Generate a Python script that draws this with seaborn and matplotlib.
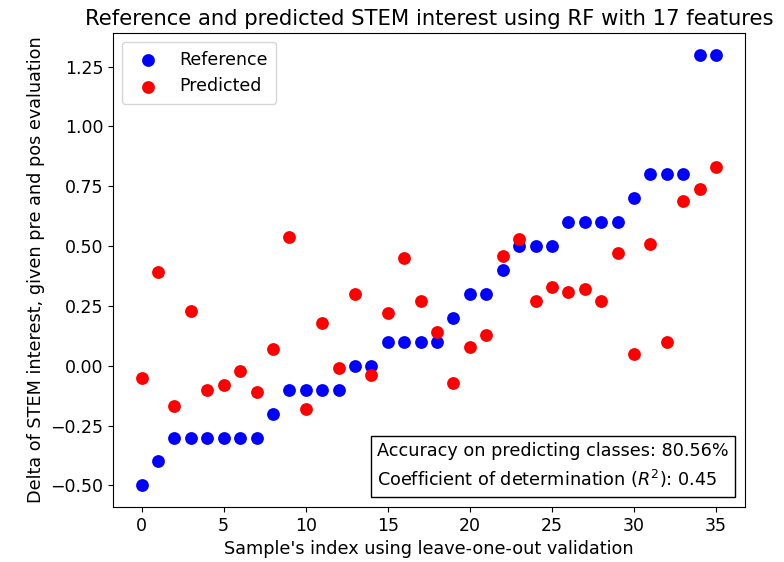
import numpy as np
import pandas as pd
import matplotlib
matplotlib.use("Agg")
import matplotlib.pyplot as plt
import seaborn as sns

sample_index = list(range(36))
reference = [-0.5, -0.4, -0.3, -0.3, -0.3, -0.3, -0.3, -0.3, -0.2, -0.1, -0.1, -0.1,
             -0.1, 0.0, 0.0, 0.1, 0.1, 0.1, 0.1, 0.2, 0.3, 0.3, 0.4, 0.5,
             0.5, 0.5, 0.6, 0.6, 0.6, 0.6, 0.7, 0.8, 0.8, 0.8, 1.3, 1.3]
predicted = [-0.05, 0.39, -0.17, 0.23, -0.10, -0.08, -0.02, -0.11, 0.07, 0.54, -0.18, 0.18,
             -0.01, 0.30, -0.04, 0.22, 0.45, 0.27, 0.14, -0.07, 0.08, 0.13, 0.46, 0.53,
             0.27, 0.33, 0.31, 0.32, 0.27, 0.47, 0.05, 0.51, 0.10, 0.69, 0.74, 0.83]
series_names = ["Reference", "Predicted"]
annotation = "Accuracy on predicting classes: 80.56%\nCoefficient of determination ($R^2$): 0.45"

plt.rcParams['font.family'] = ['DejaVu Sans']

fig = plt.figure(figsize=(7.84, 5.62), dpi=100)
ax = fig.add_axes([0.144, 0.098, 0.806, 0.843])

sns.scatterplot(x=sample_index, y=reference, color="blue", s=85, linewidth=0,
                label=series_names[0], ax=ax)
sns.scatterplot(x=sample_index, y=predicted, color="red", s=85, linewidth=0,
                label=series_names[1], ax=ax)

ax.set_title("Reference and predicted STEM interest using RF with 17 features", fontsize=15.2)
ax.set_xlabel("Sample's index using leave-one-out validation", fontsize=12.7)
ax.set_ylabel("Delta of STEM interest, given pre and pos evaluation", fontsize=12.7)
ax.set_xticks([0, 5, 10, 15, 20, 25, 30, 35])
ax.set_yticks([-0.5, -0.25, 0.0, 0.25, 0.5, 0.75, 1.0, 1.25])
ax.tick_params(labelsize=12.5)

leg = ax.legend(loc="upper left", fontsize=12.5, borderpad=0.5)

ax.text(0.975, 0.035, annotation, transform=ax.transAxes, ha="right", va="bottom",
        multialignment="left", fontsize=12.7, linespacing=1.45,
        bbox=dict(boxstyle="square,pad=0.35", facecolor="white", edgecolor="black"))

fig.savefig("out.png", dpi=100)
